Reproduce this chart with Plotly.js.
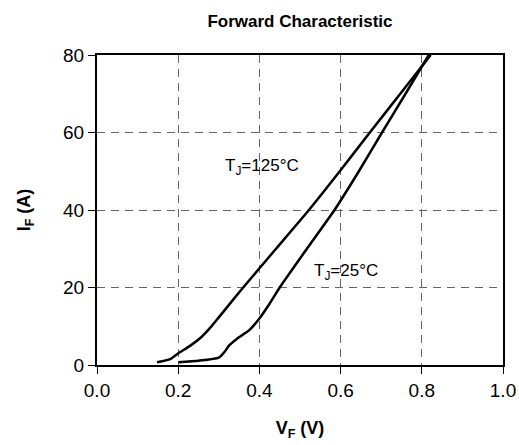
<!DOCTYPE html>
<html>
<head>
<meta charset="utf-8">
<script src="https://cdn.plot.ly/plotly-3.0.1.min.js"></script>
<style>html,body{margin:0;padding:0;background:#fff;}#chart{width:519px;height:445px;}</style>
</head>
<body>
<div id="chart"></div>
<script>
// T_J = 125°C
const vf125 = [0.148, 0.18, 0.20, 0.23, 0.258, 0.278, 0.30, 0.335, 0.36, 0.441, 0.522, 0.598, 0.672, 0.747, 0.822];
const if125 = [0.7, 1.5, 3.0, 5.0, 7.3, 9.5, 12.3, 16.8, 20, 30, 40, 50, 60, 70, 80];
// T_J = 25°C
const vf25 = [0.20, 0.25, 0.30, 0.315, 0.325, 0.345, 0.375, 0.40, 0.425, 0.45, 0.517, 0.585, 0.645, 0.702, 0.76, 0.817];
const if25 = [0.7, 1.1, 1.9, 3.5, 5.0, 6.8, 9.0, 12.0, 15.8, 20, 30, 40, 50, 60, 70, 80];

const xTicks = [0, 0.2, 0.4, 0.6, 0.8, 1.0];
const xTickText = ["0.0", "0.2", "0.4", "0.6", "0.8", "1.0"];
const yTicks = [0, 20, 40, 60, 80];

const FONT = "Arial, 'Liberation Sans', sans-serif";

const traces = [
  {x: vf125, y: if125, mode: "lines", line: {color: "#000", width: 2.5, shape: "spline", smoothing: 0.5}, hoverinfo: "skip"},
  {x: vf25, y: if25, mode: "lines", line: {color: "#000", width: 2.5, shape: "spline", smoothing: 0.5}, hoverinfo: "skip"}
];

const layout = {
  width: 519, height: 445,
  margin: {l: 97, r: 16, t: 55, b: 80},
  paper_bgcolor: "#fff", plot_bgcolor: "#fff",
  showlegend: false,
  font: {family: FONT, color: "#000", size: 19},
  title: {text: "<b>Forward Characteristic</b>", font: {family: FONT, size: 17, color: "#000"}, x: 0.578, xanchor: "center", y: 0.952, yanchor: "middle"},
  xaxis: {
    range: [0, 1.0], tickvals: xTicks, ticktext: xTickText,
    showline: true, linecolor: "#000", linewidth: 2, mirror: true,
    ticks: "outside", ticklen: 7, tickwidth: 1, tickcolor: "#000",
    showgrid: true, gridcolor: "#666", gridwidth: 1, griddash: "8px,6px",
    zeroline: false, tickfont: {size: 19, family: FONT},
    title: {text: "<b>V<sub>F</sub> (V)</b>", font: {size: 18, family: FONT}, standoff: 22}
  },
  yaxis: {
    range: [0, 80], tickvals: yTicks,
    showline: true, linecolor: "#000", linewidth: 2, mirror: true,
    ticks: "outside", ticklen: 7, tickwidth: 1, tickcolor: "#000",
    showgrid: true, gridcolor: "#666", gridwidth: 1, griddash: "8px,6px",
    zeroline: false, tickfont: {size: 19, family: FONT},
    title: {text: "<b>I<sub>F</sub> (A)</b>", font: {size: 18, family: FONT}, standoff: 28}
  },
  annotations: [
    {x: 0.31, y: 51.0, xref: "x", yref: "y", text: "T<sub>J</sub>=125°C", showarrow: false, xanchor: "left", yanchor: "middle", font: {size: 17, family: FONT}},
    {x: 0.529, y: 24.0, xref: "x", yref: "y", text: "T<sub>J</sub>=25°C", showarrow: false, xanchor: "left", yanchor: "middle", font: {size: 17, family: FONT}}
  ]
};

Plotly.newPlot("chart", traces, layout, {displayModeBar: false, staticPlot: true});
</script>
</body>
</html>
